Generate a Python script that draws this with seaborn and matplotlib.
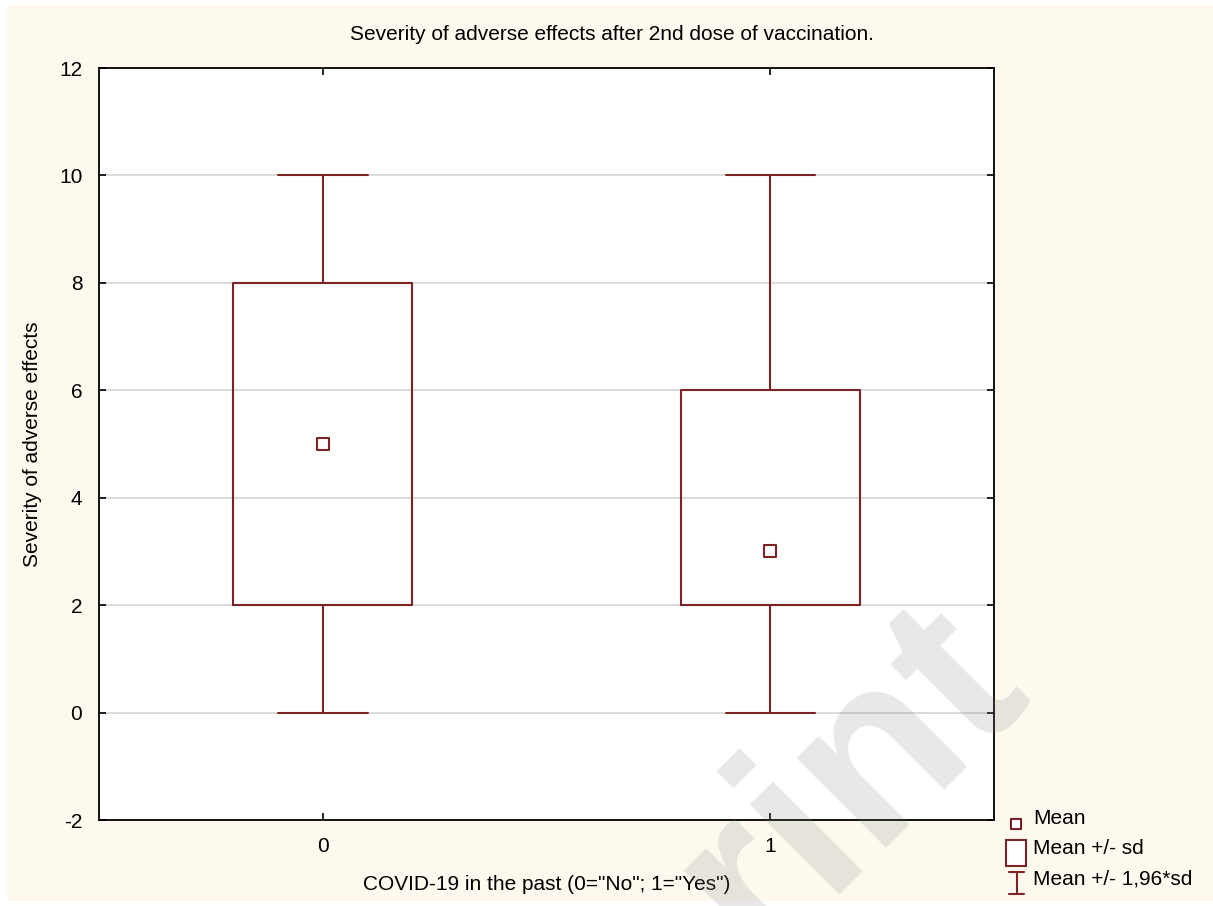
import numpy as np
import matplotlib
matplotlib.use("Agg")
import matplotlib.pyplot as plt
import seaborn as sns
from matplotlib.patches import Rectangle
from matplotlib.lines import Line2D

# Data
groups = ["0", "1"]
means = [5, 3]
box_low = [2, 2]
box_high = [8, 6]
whisk_low = [0, 0]
whisk_high = [10, 10]

sns.set_style("white")
plt.rcParams['font.family'] = ['Liberation Sans', 'DejaVu Sans']
plt.rcParams['axes.unicode_minus'] = False
plt.rcParams['text.color'] = 'black'
plt.rcParams['axes.labelcolor'] = 'black'

maroon = "#7d2226"
cream = "#fdf9ee"
fs = 15

fig = plt.figure(figsize=(12.13, 9.06), dpi=100)
fig.patch.set_facecolor("white")
W, H = 1213, 906
fig.patches.append(Rectangle((7 / W, 5 / H), 1 - 7 / W, 1 - 10 / H, transform=fig.transFigure,
                             facecolor=cream, edgecolor="none", zorder=-10))

ax = fig.add_axes([99 / W, 1 - 820 / H, (994 - 99) / W, (820 - 68) / H])
ax.set_facecolor("white")

stats = []
for i in range(len(groups)):
    stats.append(dict(med=means[i], q1=box_low[i], q3=box_high[i],
                      whislo=whisk_low[i], whishi=whisk_high[i], fliers=[]))
ax.bxp(stats, positions=[0, 1], widths=0.4, capwidths=0.2, showfliers=False,
       boxprops=dict(color=maroon, linewidth=1.5),
       whiskerprops=dict(color=maroon, linewidth=1.5),
       capprops=dict(color=maroon, linewidth=1.5),
       medianprops=dict(linewidth=0),
       manage_ticks=False, zorder=3)

sns.scatterplot(x=[0, 1], y=means, ax=ax, marker="s", s=80, facecolor="white",
                edgecolor=maroon, linewidth=1.5, zorder=4, legend=False)

ax.set_xlim(-0.5, 1.5)
ax.set_ylim(-2, 12)
ax.set_xticks([0, 1])
ax.set_xticklabels(groups)
ax.set_yticks(range(-2, 13, 2))
ax.yaxis.grid(True, color="#d4d4d4", linewidth=1.2, zorder=0)
ax.set_axisbelow(True)
ax.tick_params(direction="in", length=5, width=1.2, colors="black", labelsize=fs,
               top=True, right=True, left=True, bottom=True, pad=12)
for sp in ax.spines.values():
    sp.set_color("black")
    sp.set_linewidth(1.3)

ax.set_xlabel('COVID-19 in the past (0="No"; 1="Yes")', fontsize=fs, labelpad=14)
ax.set_ylabel("Severity of adverse effects", fontsize=fs, labelpad=12)

fig.text(612 / W, 1 - 35 / H, "Severity of adverse effects after 2nd dose of vaccination.",
         ha="center", va="center", fontsize=fs)

# Legend drawn by hand in figure pixels
def px(x, y):
    return x / W, 1 - y / H

ft = fig.transFigure
fig.add_artist(Rectangle(px(1011, 829), 10 / W, 10 / H, transform=ft,
                         facecolor="white", edgecolor=maroon, linewidth=1.5))
fig.add_artist(Rectangle(px(1006, 866), 20 / W, 26 / H, transform=ft,
                         facecolor="white", edgecolor=maroon, linewidth=1.5))
fig.add_artist(Line2D([1009 / W, 1024 / W], [1 - 872 / H] * 2, transform=ft, color=maroon, lw=1.5))
fig.add_artist(Line2D([1009 / W, 1024 / W], [1 - 894 / H] * 2, transform=ft, color=maroon, lw=1.5))
fig.add_artist(Line2D([1016.5 / W] * 2, [1 - 872 / H, 1 - 894 / H], transform=ft, color=maroon, lw=1.5))
for ty, lab in zip([819, 849, 879], ["Mean", "Mean +/- sd", "Mean +/- 1,96*sd"]):
    fig.text(1033 / W, 1 - ty / H, lab, ha="left", va="center", fontsize=fs)

# Watermark
fig.text(1030 / W, 1 - 688 / H, "Preprint", rotation=45, rotation_mode="anchor",
         ha="right", va="baseline", fontsize=172, fontweight="bold",
         color="#808080", alpha=0.18, zorder=10)

fig.savefig("out.png", dpi=100, facecolor=fig.get_facecolor())
